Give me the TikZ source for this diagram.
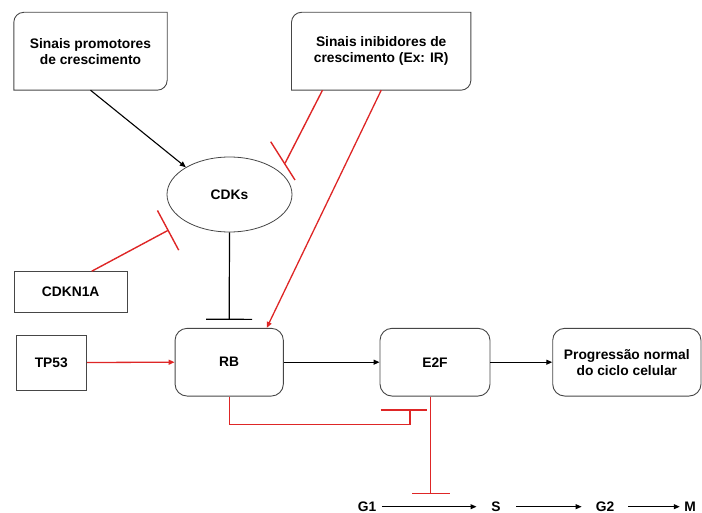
\documentclass[tikz,border=0pt]{standalone}
\usepackage{fontspec}
\setmainfont{Liberation Sans}
\usetikzlibrary{arrows.meta,calc,shapes.geometric}
\definecolor{rd}{RGB}{222,38,38}
\definecolor{bd}{RGB}{70,70,70}
\newcommand\dtxt{\fontsize{13.8}{15.8}\selectfont\bfseries}
\begin{document}
\begin{tikzpicture}[x=1pt,y=1pt,
  nbox/.style={align=center, font=\dtxt, inner sep=0pt},
  sqbox/.style={nbox, draw=bd, line width=0.9pt},
  rbox/.style={sqbox, rounded corners=12pt},
  outl/.style={draw=bd, line width=0.9pt},
  arr/.style={-{Triangle[length=6pt,width=5pt]}, line width=1.1pt, black},
  rarr/.style={-{Triangle[length=6pt,width=5pt]}, line width=1.3pt, rd},
  inh/.style={line width=1.4pt, rd},
  blk/.style={line width=1.2pt, black}]
\useasboundingbox (0,0) rectangle (702,-513);

% nodes
\node[nbox, minimum width=153pt, minimum height=77.5pt] (sp) at (90.5,-51.25) {Sinais promotores\\de crescimento};
\draw[outl] ($(sp.north west)+(0,-10)$) arc[start angle=180,end angle=90,radius=10pt] -- (sp.north east) -- ($(sp.south east)+(0,10)$) arc[start angle=0,end angle=-90,radius=10pt] -- (sp.south west) -- cycle;

\node[nbox, minimum width=179pt, minimum height=77.5pt] (si) at (381.2,-51.25) {Sinais inibidores de\\crescimento (Ex: IR)};
\draw[outl] ($(si.north west)+(0,-10)$) arc[start angle=180,end angle=90,radius=10pt] -- (si.north east) -- ($(si.south east)+(0,10)$) arc[start angle=0,end angle=-90,radius=10pt] -- (si.south west) -- cycle;

\node[ellipse, draw=bd, line width=0.8pt, minimum width=125pt, minimum height=75pt, inner sep=0pt, font=\dtxt] (cdk) at (229.5,-194.5) {CDKs};
\node[sqbox, minimum width=113.3pt, minimum height=40.6pt] (cdkn) at (70.7,-292) {CDKN1A};
\node[sqbox, minimum width=70.7pt, minimum height=55pt] (tp53) at (51.3,-362.5) {TP53};
\node[rbox, minimum width=108.3pt, minimum height=67.7pt] (rb) at (229.2,-362.2) {RB};
\node[rbox, minimum width=110pt, minimum height=67.7pt] (e2f) at (435,-362.2) {E2F};
\node[rbox, minimum width=148.3pt, minimum height=67.7pt] (prog) at (626.85,-362.2) {Progressão normal\\do ciclo celular};

\node[nbox] (g1) at (367,-506.7) {G1};
\node[nbox] (s) at (496,-506.7) {S};
\node[nbox] (g2) at (605,-506.7) {G2};
\node[nbox] (m) at (690,-506.7) {M};

\coordinate (cdkA) at (285,-163.3);
\coordinate (cdkB) at (168.7,-230);
\coordinate (kb) at (410,-410);
\coordinate (kc) at (430.7,-494);

% connectors
\draw[arr] (sp.south) -- (cdk.148);
\draw[inh] ([xshift=31pt]si.south west) -- (cdkA);
\draw[inh] ($(cdkA)+(-14.3,21.6)$) -- ($(cdkA)+(10,-16.7)$);
\draw[rarr] (si.south) -- ([xshift=37.5pt]rb.north);
\draw[inh, -{Bar[width=45pt]}] ([xshift=21pt]cdkn.north) -- (cdkB);
\draw[blk, -{Bar[width=46pt]}] (cdk.south) -- ([yshift=8pt]rb.north);
\draw[rarr] (tp53.east) -- (rb.west);
\draw[arr] (rb.east) -- (e2f.west);
\draw[arr] (e2f.east) -- (prog.west);
\draw[inh] (rb.south) -- ++(0,-28) -| (kb);
\draw[inh] ($(kb)+(-29.3,0)$) -- ($(kb)+(16.7,0)$);
\draw[inh, -{Bar[width=38pt]}] ([xshift=-4.3pt]e2f.south) -- (kc);

\draw[arr, line width=1pt] ([xshift=5.5pt]g1.east) -- ([xshift=-14.7pt]s.west);
\draw[arr, line width=1pt] ([xshift=15.4pt]s.east) -- ([xshift=-14pt]g2.west);
\draw[arr, line width=1pt] ([xshift=14pt]g2.east) -- ([xshift=-4.3pt]m.west);
\end{tikzpicture}
\end{document}
